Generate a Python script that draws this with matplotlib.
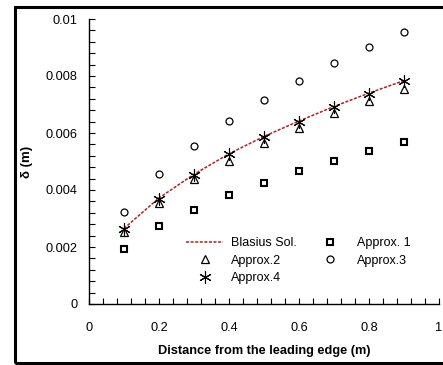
import matplotlib
matplotlib.use("Agg")
import matplotlib.pyplot as plt
from matplotlib.patches import Rectangle
from matplotlib.ticker import MultipleLocator

x = [0.1, 0.2, 0.3, 0.4, 0.5, 0.6, 0.7, 0.8, 0.9]
blasius = [0.00265, 0.00372, 0.00455, 0.00527, 0.00588, 0.00642, 0.00693, 0.00740, 0.00784]
approx1 = [0.00194, 0.00274, 0.00331, 0.00382, 0.00425, 0.00468, 0.00503, 0.00537, 0.00568]
approx2 = [0.00252, 0.00354, 0.00437, 0.00502, 0.00565, 0.00618, 0.00670, 0.00712, 0.00754]
approx3 = [0.00323, 0.00456, 0.00554, 0.00642, 0.00716, 0.00782, 0.00846, 0.00902, 0.00954]
approx4 = [0.00262, 0.00368, 0.00453, 0.00526, 0.00586, 0.00639, 0.00691, 0.00737, 0.00782]

plt.rcParams['font.family'] = ['Liberation Sans', 'DejaVu Sans']

fig = plt.figure(figsize=(4.43, 3.65), dpi=100)
ax = fig.add_axes([89/443, 1-304/365, (439-89)/443, (304-19)/365])

l_bl, = ax.plot(x, blasius, color='#B02020', linestyle=(0, (2, 1)), linewidth=1.1, label='Blasius Sol.')
l_a1, = ax.plot(x, approx1, linestyle='none', marker='s', markersize=5, markerfacecolor='white',
                markeredgecolor='black', markeredgewidth=1.5, label='Approx. 1')
l_a2, = ax.plot(x, approx2, linestyle='none', marker='^', markersize=5.5, markerfacecolor='white',
                markeredgecolor='black', markeredgewidth=0.9, label='Approx.2')
l_a3, = ax.plot(x, approx3, linestyle='none', marker='o', markersize=5, markerfacecolor='white',
                markeredgecolor='black', markeredgewidth=0.9, label='Approx.3')
l_a4, = ax.plot(x, approx4, linestyle='none', marker=(6, 2, 0), markersize=9,
                markeredgecolor='black', markeredgewidth=0.8, label='Approx.4')

ax.set_xlim(0, 1)
ax.set_ylim(0, 0.01)
ax.xaxis.set_minor_locator(MultipleLocator(0.04))
ax.yaxis.set_minor_locator(MultipleLocator(0.0004))
ax.set_xticks([0, 0.2, 0.4, 0.6, 0.8, 1.0])
ax.set_xticklabels(['0', '0.2', '0.4', '0.6', '0.8', '1'])
ax.set_yticks([0, 0.002, 0.004, 0.006, 0.008, 0.01])
ax.set_yticklabels(['0', '0.002', '0.004', '0.006', '0.008', '0.01'])
ax.tick_params(which='both', direction='in', length=4, width=0.8, labelsize=9.2)
ax.tick_params(axis='x', pad=13)
ax.tick_params(axis='y', pad=8.5)
for s in ['top', 'right']:
    ax.spines[s].set_visible(False)
for s in ['left', 'bottom']:
    ax.spines[s].set_linewidth(1.0)

ax.set_xlabel('Distance from the leading edge (m)', fontsize=9.2, fontweight='bold', labelpad=8)
ax.set_ylabel('δ (m)', fontsize=9.5, fontweight='bold')
ax.yaxis.set_label_coords(-0.16, 0.5)

leg = ax.legend(handles=[l_bl, l_a2, l_a4, l_a1, l_a3], ncol=2, frameon=False, fontsize=9,
                loc='lower right', bbox_to_anchor=(0.95, 0.03), handlelength=3.0,
                columnspacing=1.2, labelspacing=0.45, handletextpad=0.6)

fig.patches.append(Rectangle((15/443, 1-363/365), 0.99, (363-7)/365, transform=fig.transFigure,
                             fill=False, edgecolor='black', linewidth=2.2))

fig.savefig('out.png', dpi=100)
